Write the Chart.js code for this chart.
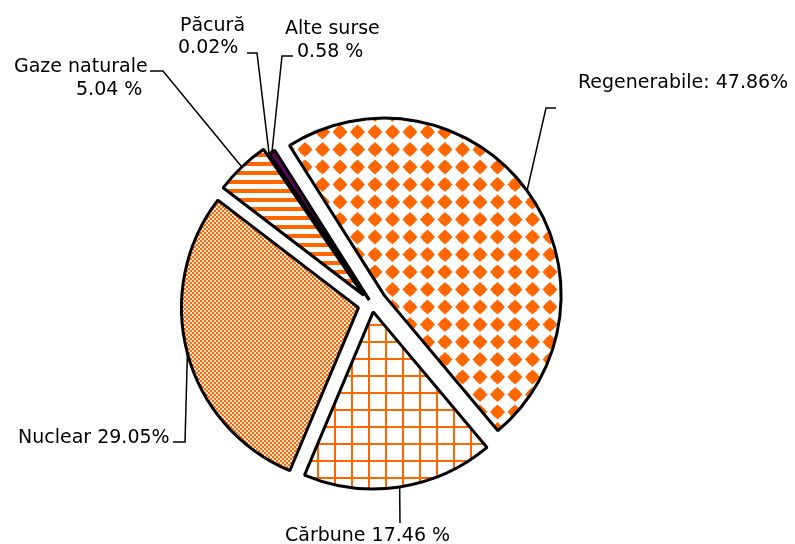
<!DOCTYPE html>
<html>
<head>
<meta charset="utf-8">
<script src="https://cdn.jsdelivr.net/npm/chart.js@4"></script>
<style>
  body { margin: 0; background: #fff; }
  #wrap { width: 795px; height: 544px; position: relative; }
</style>
</head>
<body>
<div id="wrap"><canvas id="pieChart"></canvas></div>
<script>

// =====================================
// DATA
// =====================================

const categories = [
    "Regenerabile",
    "Cărbune",
    "Nuclear",
    "Gaze naturale",
    "Păcură",
    "Alte surse"
];

const shares = [47.86, 17.46, 29.05, 5.04, 0.02, 0.58];

// label text as printed on the chart
const labelLines = [
    ["Regenerabile: 47.86%"],
    ["Cărbune 17.46 %"],
    ["Nuclear 29.05%"],
    ["Gaze naturale", "5.04 %"],
    ["Păcură", "0.02%"],
    ["Alte surse", "0.58 %"]
];


// =====================================
// LAYOUT / STYLE
// =====================================

const ORANGE = "#ff6600";

// how far each slice is pulled out (px)
const explode = [15, 8, 14, 12, 5, 5];

// text position of every line [x, baseline]
const labelPos = [
    [[578, 88]],
    [[285, 541]],
    [[18, 443]],
    [[14, 72], [76, 95]],
    [[180, 31], [178, 53]],
    [[285, 34], [297, 57]]
];

// leader line after the anchor on the arc
const leaderPath = [
    [[546, 108], [556, 108]],
    [[400, 523]],
    [[185, 442], [173, 442]],
    [[163, 71], [150, 71]],
    [[257, 53], [247, 53]],
    [[282, 56], [293, 56]]
];


// =====================================
// PATTERNS
// =====================================

function makePattern(w, h, draw){

    const c = document.createElement("canvas");
    c.width = w;
    c.height = h;

    const g = c.getContext("2d");
    g.fillStyle = "#fff";
    g.fillRect(0, 0, w, h);

    draw(g);

    return g.createPattern(c, "repeat");
}

// rounded diamonds
const diamondPattern = makePattern(35, 35, g => {

    g.fillStyle = ORANGE;

    for(let i = -1; i <= 2; i++){
        for(let j = -1; j <= 2; j++){

            const x = 25 + i * 17.5 - 35;
            const y = 27 + j * 17.5 - 35;

            g.beginPath();
            g.moveTo(x, y - 7.5);
            g.lineTo(x + 7.5, y);
            g.lineTo(x, y + 7.5);
            g.lineTo(x - 7.5, y);
            g.closePath();
            g.fill();

            g.beginPath();
            g.arc(x, y, 5.6, 0, Math.PI * 2);
            g.fill();
        }
    }
});

// grid
const gridPattern = makePattern(17, 17, g => {

    g.fillStyle = ORANGE;
    g.fillRect(11, 0, 2, 17);
    g.fillRect(0, 1, 17, 2);
});

// fine checker
const checkPattern = makePattern(4, 4, g => {

    g.fillStyle = "#ffe6d6";
    g.fillRect(0, 0, 4, 4);
    g.fillStyle = ORANGE;
    g.fillRect(0, 0, 2, 2);
    g.fillRect(2, 2, 2, 2);
});

// horizontal stripes
const stripePattern = makePattern(9, 9, g => {

    g.fillStyle = ORANGE;
    g.fillRect(0, 0, 9, 4);
});

const sliceFills = [
    diamondPattern,
    gridPattern,
    checkPattern,
    stripePattern,
    "#000000",
    "#660066"
];


// =====================================
// PLUGINS
// =====================================

// pull slices apart
const explodePlugin = {

    id: "explode",

    afterDatasetUpdate(chart, args){

        args.meta.data.forEach((arc, i) => {

            const mid = (arc.startAngle + arc.endAngle) / 2;

            arc.x += explode[i] * Math.cos(mid);
            arc.y += explode[i] * Math.sin(mid);
        });
    }
};

// labels with leader lines
const labelPlugin = {

    id: "sliceLabels",

    afterDatasetsDraw(chart){

        const ctx = chart.ctx;
        const arcs = chart.getDatasetMeta(0).data;

        ctx.save();

        ctx.strokeStyle = "#000";
        ctx.lineWidth = 1.5;

        arcs.forEach((arc, i) => {

            const mid = (arc.startAngle + arc.endAngle) / 2;

            const ax = arc.x + arc.outerRadius * Math.cos(mid);
            const ay = arc.y + arc.outerRadius * Math.sin(mid);

            ctx.beginPath();
            ctx.moveTo(ax, ay);

            leaderPath[i].forEach(p => ctx.lineTo(p[0], p[1]));

            ctx.stroke();
        });

        ctx.fillStyle = "#000";
        ctx.font = "19px 'DejaVu Sans'";
        ctx.textAlign = "left";
        ctx.textBaseline = "alphabetic";

        labelLines.forEach((lines, i) => {

            lines.forEach((txt, k) => {

                ctx.fillText(txt, labelPos[i][k][0], labelPos[i][k][1]);
            });
        });

        ctx.restore();
    }
};


// =====================================
// PIE CHART
// =====================================

const pieChart =
new Chart(

    document.getElementById("pieChart"),

    {

        type: "pie",

        data: {

            labels: categories,

            datasets: [{

                data: shares,

                backgroundColor: sliceFills,

                borderColor: "#000",

                borderWidth: 3,

                radius: 177
            }]
        },

        options: {

            responsive: true,

            maintainAspectRatio: false,

            animation: false,

            events: [],

            rotation: -32.3,

            layout: {
                padding: { left: 0, right: 51, top: 64, bottom: 0 }
            },

            plugins: {
                legend: { display: false },
                tooltip: { enabled: false }
            }
        },

        plugins: [explodePlugin, labelPlugin]
    }
);
</script>
</body>
</html>
